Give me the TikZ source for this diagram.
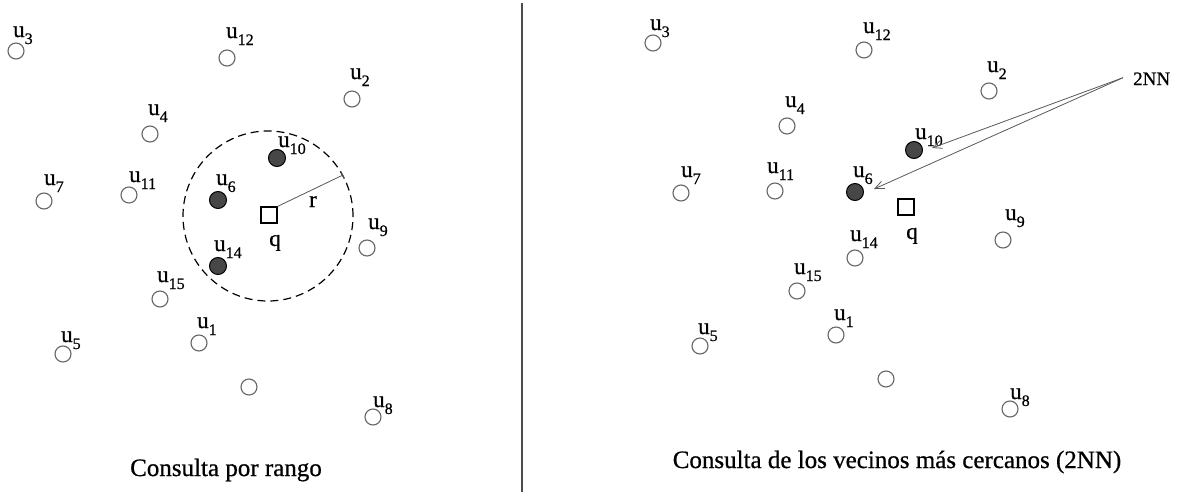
\documentclass[tikz,border=0pt]{standalone}
\usepackage{fontspec}
\setmainfont{Liberation Serif}[FakeBold=0.7]
\usetikzlibrary{arrows.meta}
\newcommand\uu[1]{u\raisebox{-7pt}{\fontsize{16}{16}\selectfont #1}}
\begin{document}
\begin{tikzpicture}[x=1pt,y=-1pt,
  opnpt/.style={circle, draw=black!60, line width=1.1pt, minimum size=16pt, inner sep=0pt},
  hitpt/.style={circle, draw=black, fill=black!72, line width=1pt, minimum size=17pt, inner sep=0pt},
  qbox/.style={rectangle, draw=black, line width=1.2pt, minimum size=16pt, inner sep=0pt},
  ulab/.style={anchor=base west, inner sep=0pt, font=\fontsize{23}{23}\selectfont},
  qlab/.style={anchor=base, inner sep=0pt, font=\fontsize{23}{23}\selectfont},
  captxt/.style={anchor=base, inner sep=0pt, font=\fontsize{25}{25}\selectfont},
  nnarrow/.style={draw=black!65, line width=0.8pt, -{Straight Barb[length=9pt,width=8pt]}},
  rline/.style={draw=black!65, line width=0.8pt, -{Bar[width=8pt]}},
  rangecirc/.style={circle, draw=black, dash pattern=on 8pt off 5pt, line width=1.2pt, minimum size=170pt, inner sep=0pt},
  divider/.style={draw=black!70, line width=1.6pt}
  ]
\useasboundingbox (0,0) rectangle (1184,493);
\fill[white] (0,0) rectangle (1184,493);

% ---------- left panel ----------
\node[rangecirc] (Lrange) at (268,216) {};
\foreach \n/\x/\y/\dx/\dy/\st in {3/16/51/-3/-14/opnpt, 12/227/58/-1/-20/opnpt, 2/352/99/-2/-20/opnpt,
  4/150/134/-2/-19/opnpt, 10/277/158/1/-11/hitpt, 7/44/201/0/-16/opnpt, 11/129/195/0/-13/opnpt,
  6/218/200/-2/-15/hitpt, 9/367/248/1/-19/opnpt, 14/218/266/-4/-15/hitpt, 15/160/299/-3/-17/opnpt,
  1/199/343/-2/-15/opnpt, 5/63/354/-2/-12/opnpt, 8/373/417/0/-10/opnpt}{
  \node[\st] (L\n) at (\x,\y) {};
  \path (L\n.center) ++(\dx,\dy) node[ulab] (Ll\n) {\uu{\n}};
}
\node[opnpt] (L0) at (249,387) {};
\node[qbox] (Lq) at (269,215) {};
\node[qlab] (Llq) at (275,246) {q};
\coordinate (Lr) at (343,175);
\draw[rline] (Lq.north east) -- (Lr);
\node[qlab] (Llr) at (313,207) {r};
\node[captxt] (Lcap) at (226,476) {Consulta por rango};

% ---------- divider ----------
\coordinate (dtop) at (522,3);
\coordinate (dbot) at (522,492);
\draw[divider] (dtop) -- (dbot);

% ---------- right panel ----------
\foreach \n/\x/\y/\dx/\dy/\st in {3/653/43/-3/-13/opnpt, 12/864/50/-1/-17/opnpt, 2/989/91/-2/-19/opnpt,
  4/787/126/-2/-19/opnpt, 10/914/150/1/-11/hitpt, 7/681/193/0/-16/opnpt, 11/775/191/-8/-18/opnpt,
  6/855/192/-2/-15/hitpt, 9/1003/240/2/-20/opnpt, 14/855/258/-5/-17/opnpt, 15/797/291/-3/-17/opnpt,
  1/836/335/-2/-15/opnpt, 5/700/346/-2/-12/opnpt, 8/1010/409/0/-10/opnpt}{
  \node[\st] (R\n) at (\x,\y) {};
  \path (R\n.center) ++(\dx,\dy) node[ulab] (Rl\n) {\uu{\n}};
}
\node[opnpt] (R0) at (886,379) {};
\node[qbox] (Rq) at (906,207) {};
\node[qlab] (Rlq) at (912,239) {q};
\node[anchor=base west, inner sep=0pt, font=\fontsize{19}{19}\selectfont] (nn) at (1133,85) {2NN};
\coordinate (t10) at (932,148);
\coordinate (t6) at (874,189);
\draw[nnarrow] ([xshift=-10pt,yshift=1pt]nn.west) -- (t10);
\draw[nnarrow] ([xshift=-10pt,yshift=1pt]nn.west) -- (t6);
\node[captxt] (Rcap) at (897,468) {Consulta de los vecinos más cercanos (2NN)};
\end{tikzpicture}
\end{document}
